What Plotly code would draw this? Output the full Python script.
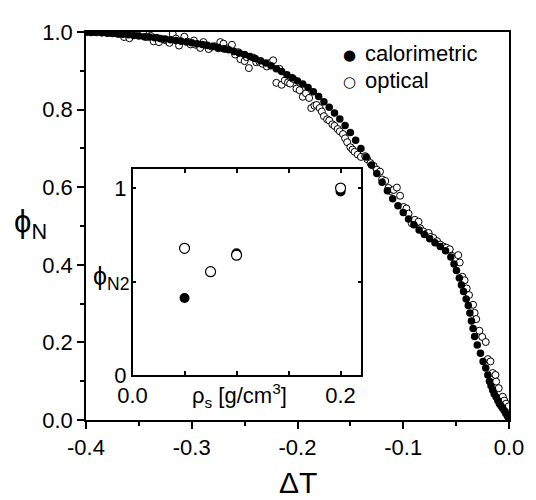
import plotly.graph_objects as go

# calorimetric phi_N vs dT (filled circles)
cal_x = [-0.400, -0.395, -0.390, -0.385, -0.380, -0.375, -0.370, -0.365, -0.360, -0.355,
         -0.350, -0.345, -0.340, -0.335, -0.330, -0.325, -0.320, -0.315, -0.310, -0.305,
         -0.300, -0.295, -0.290, -0.285, -0.280, -0.275, -0.270, -0.265, -0.260, -0.255,
         -0.250, -0.245, -0.240, -0.235, -0.230, -0.225, -0.220, -0.215, -0.210, -0.205,
         -0.200, -0.195, -0.190, -0.185, -0.180, -0.175, -0.170, -0.165, -0.160, -0.155,
         -0.150, -0.145, -0.140, -0.135, -0.130, -0.125, -0.120, -0.115, -0.110, -0.105,
         -0.100, -0.095, -0.090, -0.085, -0.080, -0.075, -0.070, -0.065, -0.060, -0.055,
         -0.052, -0.0497, -0.047, -0.045, -0.043, -0.0405, -0.0385, -0.037, -0.0355, -0.034,
         -0.0325, -0.030, -0.027, -0.0245, -0.022, -0.020, -0.0185, -0.017, -0.0155, -0.014,
         -0.0122, -0.0106, -0.0091, -0.0075, -0.006, -0.0044, -0.003, -0.0015, -0.0005]
cal_y = [1.000, 0.999, 0.999, 0.998, 0.997, 0.996, 0.995, 0.994, 0.993, 0.991,
         0.990, 0.988, 0.987, 0.985, 0.983, 0.982, 0.980, 0.978, 0.976, 0.974,
         0.972, 0.970, 0.968, 0.965, 0.963, 0.960, 0.957, 0.954, 0.950, 0.946,
         0.942, 0.937, 0.932, 0.926, 0.920, 0.913, 0.905, 0.898, 0.890, 0.882,
         0.874, 0.866, 0.857, 0.846, 0.834, 0.820, 0.806, 0.791, 0.776, 0.759,
         0.741, 0.721, 0.700, 0.678, 0.657, 0.635, 0.613, 0.591, 0.570, 0.552,
         0.535, 0.518, 0.503, 0.490, 0.478, 0.467, 0.457, 0.447, 0.436, 0.420,
         0.402, 0.385, 0.366, 0.348, 0.331, 0.312, 0.295, 0.276, 0.255, 0.236,
         0.215, 0.193, 0.172, 0.151, 0.134, 0.116, 0.100, 0.088, 0.077, 0.067,
         0.059, 0.050, 0.042, 0.036, 0.030, 0.024, 0.017, 0.010, 0.005]

# optical phi_N vs dT (open circles)
opt_x = [-0.398, -0.392, -0.385, -0.378, -0.373, -0.368, -0.364, -0.359, -0.355, -0.350,
         -0.346, -0.343, -0.339, -0.336, -0.333, -0.331, -0.327, -0.324, -0.321, -0.318,
         -0.315, -0.312, -0.309, -0.307, -0.304, -0.301, -0.298, -0.296, -0.292, -0.289,
         -0.286, -0.284, -0.281, -0.278, -0.275, -0.273, -0.270, -0.268, -0.265, -0.262,
         -0.259, -0.256, -0.254, -0.250, -0.248, -0.246, -0.242, -0.239, -0.236, -0.233,
         -0.229, -0.226, -0.223, -0.220, -0.217, -0.215, -0.212, -0.209, -0.207, -0.204,
         -0.201, -0.198, -0.195, -0.192, -0.189, -0.187, -0.184, -0.182, -0.179, -0.177,
         -0.175, -0.172, -0.170, -0.167, -0.165, -0.162, -0.160, -0.157, -0.155, -0.153,
         -0.150, -0.148, -0.146, -0.143, -0.140, -0.136, -0.134, -0.131, -0.128, -0.125,
         -0.122, -0.120, -0.117, -0.114, -0.112, -0.109, -0.106, -0.103, -0.0996, -0.097,
         -0.095, -0.092, -0.089, -0.0856, -0.084, -0.081, -0.078, -0.076, -0.074, -0.0715,
         -0.068, -0.065, -0.062, -0.059, -0.056, -0.054, -0.051, -0.048, -0.0466, -0.044,
         -0.042, -0.040, -0.0378, -0.034, -0.0325, -0.031, -0.028, -0.0253, -0.022, -0.020,
         -0.0175, -0.0153, -0.0128, -0.0122, -0.0097, -0.0059, -0.0044, -0.0028, -0.0003]
opt_y = [1.000, 1.000, 0.999, 0.998, 0.999, 0.995, 0.987, 0.984, 0.997, 0.992,
         0.996, 0.987, 0.990, 0.976, 0.985, 0.974, 0.981, 0.978, 0.972, 0.995,
         0.983, 0.965, 0.978, 0.988, 0.975, 0.968, 0.978, 0.967, 0.959, 0.974,
         0.966, 0.956, 0.962, 0.963, 0.958, 0.974, 0.970, 0.956, 0.958, 0.967,
         0.942, 0.948, 0.930, 0.925, 0.935, 0.907, 0.934, 0.922, 0.923, 0.918,
         0.911, 0.920, 0.927, 0.869, 0.905, 0.864, 0.875, 0.870, 0.867, 0.879,
         0.854, 0.850, 0.833, 0.842, 0.830, 0.804, 0.810, 0.812, 0.804, 0.795,
         0.783, 0.775, 0.772, 0.762, 0.758, 0.750, 0.744, 0.737, 0.726, 0.716,
         0.703, 0.697, 0.691, 0.684, 0.678, 0.680, 0.672, 0.662, 0.655, 0.645,
         0.640, 0.620, 0.616, 0.598, 0.590, 0.593, 0.599, 0.578, 0.549, 0.545,
         0.532, 0.507, 0.516, 0.511, 0.494, 0.486, 0.480, 0.482, 0.472, 0.469,
         0.461, 0.452, 0.447, 0.444, 0.440, 0.423, 0.415, 0.425, 0.406, 0.369,
         0.360, 0.339, 0.322, 0.297, 0.276, 0.260, 0.230, 0.214, 0.201, 0.157,
         0.151, 0.121, 0.116, 0.099, 0.082, 0.060, 0.050, 0.042, 0.035]

# inset: phi_N2 vs rho_s
ins_cal_x = [0.05, 0.10, 0.20]
ins_cal_y = [0.412, 0.652, 0.982]
ins_opt_x = [0.05, 0.075, 0.10, 0.20]
ins_opt_y = [0.678, 0.553, 0.641, 1.000]

# ticks
x_ticks = [-0.4, -0.3, -0.2, -0.1, 0.0]
x_tick_text = ["-0.4", "-0.3", "-0.2", "-0.1", "0.0"]
y_ticks = [0.0, 0.2, 0.4, 0.6, 0.8, 1.0]
y_tick_text = ["0.0", "0.2", "0.4", "0.6", "0.8", "1.0"]
ins_x_ticks = [0.0, 0.05, 0.10, 0.15, 0.20]
ins_x_text = ["0.0", "", "", "", "0.2"]
ins_y_ticks = [0.0, 0.5, 1.0]
ins_y_text = ["0", "", "1"]

FONT = "Liberation Sans, Arial, sans-serif"

fig = go.Figure()
# optical below, calorimetric band on top
fig.add_trace(go.Scatter(x=opt_x, y=opt_y, mode="markers", showlegend=False,
                         marker=dict(color="white", size=7, line=dict(color="black", width=1))))
fig.add_trace(go.Scatter(x=cal_x, y=cal_y, mode="markers", showlegend=False,
                         marker=dict(color="black", size=7.5, line=dict(width=0))))
fig.add_trace(go.Scatter(x=ins_cal_x, y=ins_cal_y, mode="markers", xaxis="x2", yaxis="y2",
                         marker=dict(color="black", size=10, line=dict(width=0)), showlegend=False))
fig.add_trace(go.Scatter(x=ins_opt_x, y=ins_opt_y, mode="markers", xaxis="x2", yaxis="y2",
                         marker=dict(color="white", size=10, line=dict(color="black", width=1.2)),
                         showlegend=False))

axis_common = dict(showgrid=False, zeroline=False, linecolor="black", linewidth=1.5,
                   tickcolor="black", tickwidth=1.5, tickfont=dict(size=22, color="black"))

# page body has an 8px margin, so the figure is 8px smaller and margins shifted
fig.update_layout(
    width=528, height=492,
    margin=dict(l=78, r=23, t=14, b=80),
    paper_bgcolor="white", plot_bgcolor="white",
    font=dict(family=FONT, color="black"),
    showlegend=False,
    xaxis=dict(range=[-0.4, 0.0], tickmode="array", tickvals=x_ticks, ticktext=x_tick_text,
               ticks="outside", ticklen=7, showline=True, mirror=True,
               minor=dict(dtick=0.05, tick0=0, ticks="outside", ticklen=4, tickwidth=1.5, tickcolor="black"),
               **axis_common),
    yaxis=dict(range=[0.0, 1.0], tickmode="array", tickvals=y_ticks, ticktext=y_tick_text,
               ticks="outside", ticklen=7, showline=True, mirror=True,
               minor=dict(dtick=0.1, tick0=0, ticks="outside", ticklen=4, tickwidth=1.5, tickcolor="black"),
               **axis_common),
    xaxis3=dict(range=[-0.4, 0.0], overlaying="x", side="top", anchor="y", tickmode="array",
                tickvals=x_ticks, ticks="inside", ticklen=6, showticklabels=False, showline=False,
                minor=dict(dtick=0.05, tick0=0, ticks="inside", ticklen=4, tickwidth=1.5, tickcolor="black"),
                showgrid=False, zeroline=False, tickcolor="black", tickwidth=1.5),
    yaxis3=dict(range=[0.0, 1.0], overlaying="y", side="right", anchor="x", tickmode="array",
                tickvals=y_ticks, ticks="inside", ticklen=6, showticklabels=False, showline=False,
                minor=dict(dtick=0.1, tick0=0, ticks="inside", ticklen=4, tickwidth=1.5, tickcolor="black"),
                showgrid=False, zeroline=False, tickcolor="black", tickwidth=1.5),
    xaxis2=dict(domain=[0.110, 0.651], anchor="y2", range=[0.0, 0.22], tickmode="array",
                tickvals=ins_x_ticks, ticktext=ins_x_text, ticks="inside", ticklen=4,
                showline=True, mirror="ticks", **axis_common),
    yaxis2=dict(domain=[0.1156, 0.646], anchor="x2", range=[0.0, 1.1], tickmode="array",
                tickvals=ins_y_ticks, ticktext=ins_y_text, ticks="inside", ticklen=4,
                showline=True, mirror="ticks", **axis_common),
    annotations=[
        # legend
        dict(text="●", xref="paper", yref="paper", x=0.623, y=0.942, showarrow=False,
             xanchor="center", yanchor="middle", font=dict(size=15, family="DejaVu Sans")),
        dict(text="○", xref="paper", yref="paper", x=0.623, y=0.872, showarrow=False,
             xanchor="center", yanchor="middle", font=dict(size=15, family="DejaVu Sans")),
        dict(text="calorimetric", xref="paper", yref="paper", x=0.655, y=0.944, showarrow=False,
             xanchor="left", yanchor="middle", font=dict(size=22)),
        dict(text="optical", xref="paper", yref="paper", x=0.655, y=0.874, showarrow=False,
             xanchor="left", yanchor="middle", font=dict(size=22)),
        # axis titles
        dict(text="ΔT", xref="paper", yref="paper", x=0.5, y=-0.161, showarrow=False,
             xanchor="center", yanchor="middle", font=dict(size=30)),
        dict(text="ϕ<sub>N</sub>", xref="paper", yref="paper", x=-0.175, y=0.505, showarrow=False,
             xanchor="left", yanchor="middle", font=dict(size=31)),
        dict(text="ϕ<sub>N2</sub>", xref="paper", yref="paper", x=0.012, y=0.365, showarrow=False,
             xanchor="left", yanchor="middle", font=dict(size=25)),
        dict(text="ρ<sub>s</sub> [g/cm<sup>3</sup>]", xref="paper", yref="paper", x=0.362, y=0.062,
             showarrow=False, xanchor="center", yanchor="middle", font=dict(size=22)),
    ],
)

fig.write_html("out.html")
